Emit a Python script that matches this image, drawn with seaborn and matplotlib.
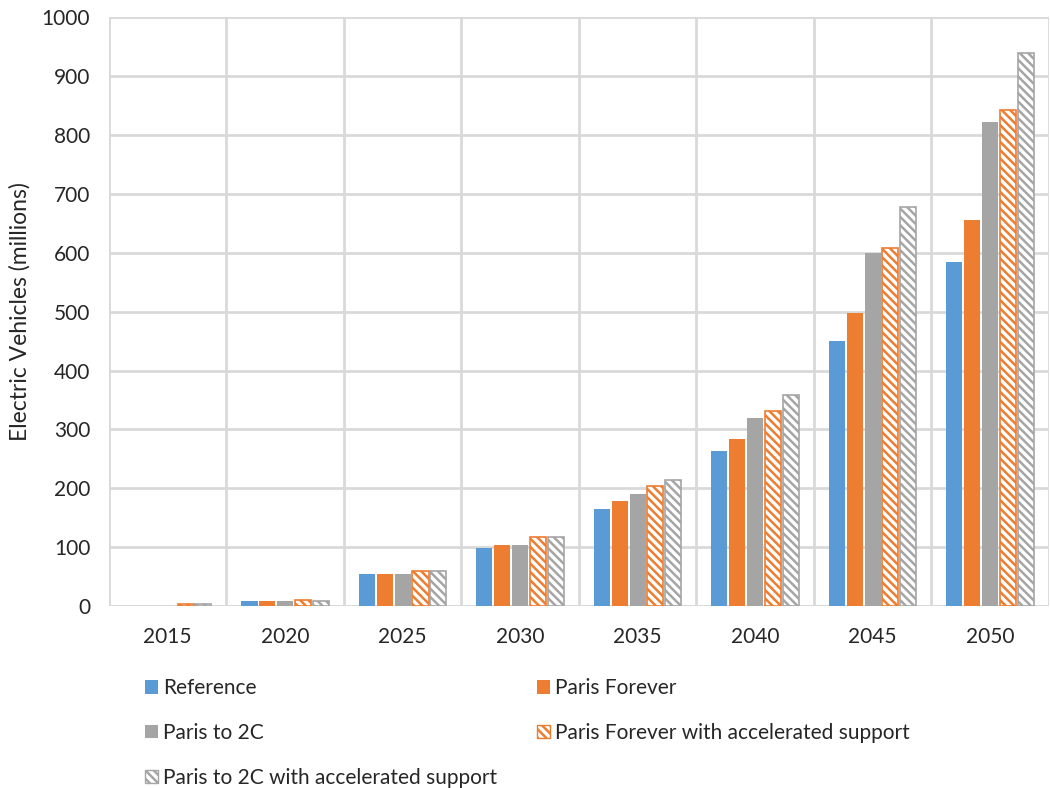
import numpy as np
import pandas as pd
import matplotlib
matplotlib.use("Agg")
import matplotlib.pyplot as plt
from matplotlib.patches import Patch
import seaborn as sns

years = ["2015", "2020", "2025", "2030", "2035", "2040", "2045", "2050"]
scenarios = [
    "Reference",
    "Paris Forever",
    "Paris to 2C",
    "Paris Forever with accelerated support",
    "Paris to 2C with accelerated support",
]
reference = [0, 8, 54, 98, 165, 264, 450, 585]
paris_forever = [0, 8, 54, 104, 178, 284, 498, 655]
paris_2c = [0, 8, 54, 104, 190, 320, 600, 822]
paris_forever_acc = [3, 10, 60, 118, 204, 332, 608, 843]
paris_2c_acc = [3, 9, 60, 118, 214, 358, 677, 940]

series = [reference, paris_forever, paris_2c, paris_forever_acc, paris_2c_acc]
colors = ["#5B9BD5", "#ED7D31", "#A5A5A5", "#ED7D31", "#A5A5A5"]
hatched = [False, False, False, True, True]
HATCH = "\\\\\\\\"

df = pd.DataFrame(
    [(y, s, v) for s, vals in zip(scenarios, series) for y, v in zip(years, vals)],
    columns=["year", "scenario", "value"],
)

sns.set_theme(style="white")
plt.rcParams["font.family"] = ["Lato", "DejaVu Sans"]
plt.rcParams["hatch.linewidth"] = 1.8

fig = plt.figure(figsize=(10.5, 7.88), dpi=100)
ax = fig.add_axes([0.1038, 0.231, 0.895, 0.747])

sns.barplot(
    data=df, x="year", y="value", hue="scenario", hue_order=scenarios,
    palette=colors, width=0.76, gap=0.1, legend=False, ax=ax, saturation=1,
)

for cont, col, h in zip(ax.containers, colors, hatched):
    for bar in cont:
        bar.set_linewidth(0)
        if h:
            bar.set_facecolor("white")
            bar.set_edgecolor(col)
            bar.set_hatch(HATCH)
            bar.set_linewidth(1.2)

grid_col = "#D9D9D9"
ax.set_xlim(-0.5, len(years) - 0.5)
ax.set_ylim(0, 1000)
ax.set_yticks(np.arange(0, 1001, 100))
ax.set_xticks(np.arange(-0.5, len(years), 1.0), minor=True)
ax.grid(True, axis="y", color=grid_col, linewidth=2)
ax.grid(True, axis="x", which="minor", color=grid_col, linewidth=2)
ax.grid(False, axis="x", which="major")
ax.set_axisbelow(True)
for sp in ax.spines.values():
    sp.set_visible(False)
ax.axhline(0, color=grid_col, linewidth=2, zorder=0.5)

text_col = "#262626"
ax.tick_params(axis="both", which="both", length=0, labelsize=15, colors=text_col)
ax.tick_params(axis="x", pad=15)
ax.tick_params(axis="y", pad=13.5)
ax.set_xlabel("")
ax.set_ylabel("Electric Vehicles (millions)", fontsize=16.5, color=text_col, labelpad=8)

# Legend below the plot; matplotlib fills columns first, so reorder for row layout
order = [0, 2, 4, 1, 3]
handles = []
for i in order:
    if hatched[i]:
        handles.append(Patch(facecolor="white", edgecolor=colors[i], hatch=HATCH, linewidth=1))
    else:
        handles.append(Patch(facecolor=colors[i], edgecolor="none"))
fig.legend(
    handles, [scenarios[i] for i in order], ncol=2, loc="upper left",
    bbox_to_anchor=(0.138, 0.139), frameon=False, fontsize=15,
    handlelength=0.62, handleheight=0.62, handletextpad=0.25,
    labelspacing=1.18, columnspacing=1.9, borderaxespad=0, borderpad=0,
    labelcolor=text_col,
)

fig.savefig("out.png", dpi=100)
